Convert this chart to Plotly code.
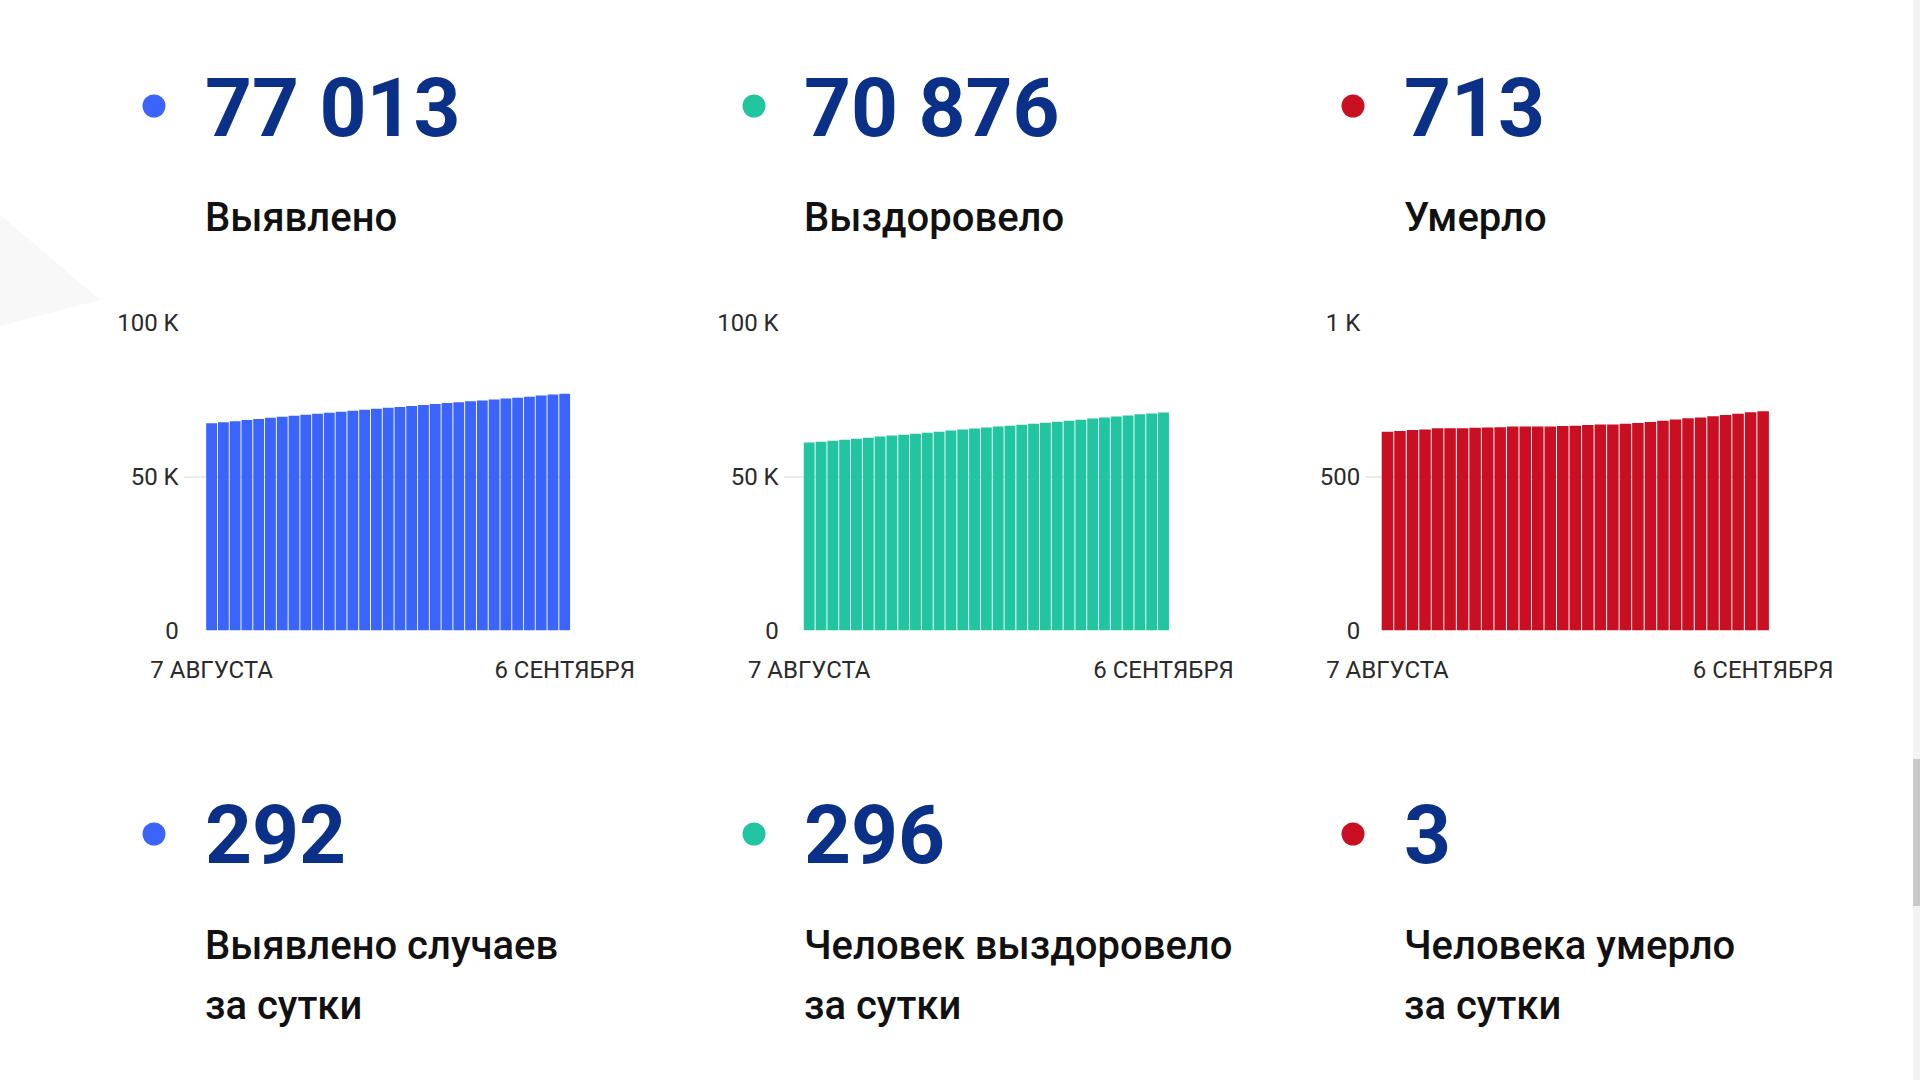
import plotly.graph_objects as go

W, H = 1920, 1080

# ---------------- data ----------------
day_labels = [f"{d}.08" for d in range(7, 32)] + [f"{d}.09" for d in range(1, 7)]
x_tick_text = ["7 АВГУСТА", "6 СЕНТЯБРЯ"]

detected = [67400, 67720, 68050, 68460, 68800, 69200, 69480, 69800, 70120, 70440,
            70770, 71090, 71420, 71740, 72070, 72390, 72640, 72960, 73290, 73610,
            73940, 74200, 74520, 74780, 75100, 75430, 75700, 76020, 76380, 76721, 77013]
recovered = [61100, 61380, 61690, 62010, 62340, 62720, 63050, 63390, 63650, 63990,
             64330, 64670, 65010, 65350, 65690, 66020, 66360, 66620, 66870, 67210,
             67550, 67890, 68230, 68490, 68920, 69260, 69600, 69940, 70280, 70580, 70876]
died = [646, 649, 652, 654, 658, 658, 658, 659, 660, 661,
        663, 663, 663, 663, 665, 666, 668, 670, 670, 672,
        675, 678, 682, 686, 690, 693, 697, 701, 705, 710, 713]

total_values = ["77 013", "70 876", "713"]
total_labels = ["Выявлено", "Выздоровело", "Умерло"]
daily_values = ["292", "296", "3"]
daily_line1 = ["Выявлено случаев", "Человек выздоровело", "Человека умерло"]
daily_line2 = ["за сутки", "за сутки", "за сутки"]

y_tickvals = [[0, 50000, 100000], [0, 50000, 100000], [0, 500, 1000]]
y_ticktext = [["0", "50 K", "100 K"], ["0", "50 K", "100 K"], ["0", "500", "1 K"]]
y_max = [100000, 100000, 1000]

colors = ["#3B64FC", "#21C6A0", "#CB0F22"]
navy = "#0B3088"
series = [detected, recovered, died]

# ---------------- layout helpers (pixels) ----------------
def px(x):
    return x / W

def py(y):
    return 1 - y / H

plot_x = [(183.7, 570.6), (783.7, 1169.4), (1365.3, 1769.4)]
x_left = [-2.37, -2.16, -1.77]
plot_y = (322, 630.6)
dot_x = [154, 754, 1353]
text_x = [203, 802, 1402]

fig = go.Figure()
layout_axes = {}
for i in range(3):
    sfx = "" if i == 0 else str(i + 1)
    fig.add_trace(go.Bar(
        x=day_labels, y=series[i],
        marker=dict(color=colors[i], line=dict(width=0)),
        xaxis="x" + sfx, yaxis="y" + sfx, showlegend=False,
        hoverinfo="skip",
    ))
    layout_axes["xaxis" + sfx] = dict(
        domain=[px(plot_x[i][0]), px(plot_x[i][1])],
        anchor="y" + sfx, type="category",
        range=[x_left[i], 30.5],
        tickvals=[day_labels[0], day_labels[-1]], ticktext=x_tick_text,
        showgrid=False, zeroline=False, showline=False, ticks="",
        ticklabelstandoff=22, automargin=False,
        tickfont=dict(family="Roboto", size=24, color="#2a2a2a"),
        fixedrange=True,
    )
    layout_axes["yaxis" + sfx] = dict(
        domain=[py(plot_y[1]), py(plot_y[0])],
        anchor="x" + sfx,
        range=[0, y_max[i] * 1.003],
        tickvals=y_tickvals[i], ticktext=y_ticktext[i],
        showgrid=True, gridcolor="#ECECEC", gridwidth=1.5,
        zeroline=False, showline=False, ticks="",
        ticklabelstandoff=4, automargin=False,
        tickfont=dict(family="Roboto", size=24, color="#2a2a2a"),
        fixedrange=True,
    )

annotations = []
shapes = []
for i in range(3):
    # top row
    annotations.append(dict(
        x=px(text_x[i]), y=py(108), xref="paper", yref="paper",
        xanchor="left", yanchor="middle", showarrow=False,
        text=total_values[i],
        font=dict(family="Roboto", size=82, color=navy, weight=700)))
    annotations.append(dict(
        x=px(text_x[i]), y=py(218), xref="paper", yref="paper",
        xanchor="left", yanchor="middle", showarrow=False,
        text=total_labels[i],
        font=dict(family="Roboto", size=40, color="#111111", weight=500)))
    # bottom row
    annotations.append(dict(
        x=px(text_x[i]), y=py(835), xref="paper", yref="paper",
        xanchor="left", yanchor="middle", showarrow=False,
        text=daily_values[i],
        font=dict(family="Roboto", size=82, color=navy, weight=700)))
    annotations.append(dict(
        x=px(text_x[i]), y=py(945), xref="paper", yref="paper",
        xanchor="left", yanchor="middle", showarrow=False,
        text=daily_line1[i],
        font=dict(family="Roboto", size=40, color="#111111", weight=500)))
    annotations.append(dict(
        x=px(text_x[i]), y=py(1005), xref="paper", yref="paper",
        xanchor="left", yanchor="middle", showarrow=False,
        text=daily_line2[i],
        font=dict(family="Roboto", size=40, color="#111111", weight=500)))
    # dots
    for cy in (106, 834):
        r = 11.5
        shapes.append(dict(
            type="circle", xref="paper", yref="paper",
            x0=px(dot_x[i] - r), x1=px(dot_x[i] + r),
            y0=py(cy + r), y1=py(cy - r),
            fillcolor=colors[i], line=dict(width=0)))

# faint shadow at left edge
shapes.append(dict(type="path", xref="paper", yref="paper",
                   path=f"M 0,{py(215)} L {px(100)},{py(300)} L 0,{py(326)} Z",
                   fillcolor="#F8F8F8", line=dict(width=0), layer="below"))
# scrollbar
shapes.append(dict(type="rect", xref="paper", yref="paper",
                   x0=px(1913), x1=1, y0=0, y1=1,
                   fillcolor="#F3F3F3", line=dict(width=0)))
shapes.append(dict(type="rect", xref="paper", yref="paper",
                   x0=px(1913), x1=1, y0=py(906), y1=py(759),
                   fillcolor="#C8C8C8", line=dict(width=0)))

fig.update_layout(
    width=W, height=H, autosize=False,
    margin=dict(l=0, r=0, t=0, b=0, pad=0),
    paper_bgcolor="white", plot_bgcolor="white",
    bargap=0.08,
    annotations=annotations, shapes=shapes,
    **layout_axes,
)

fig.write_html("out.html", config={"displayModeBar": False})
